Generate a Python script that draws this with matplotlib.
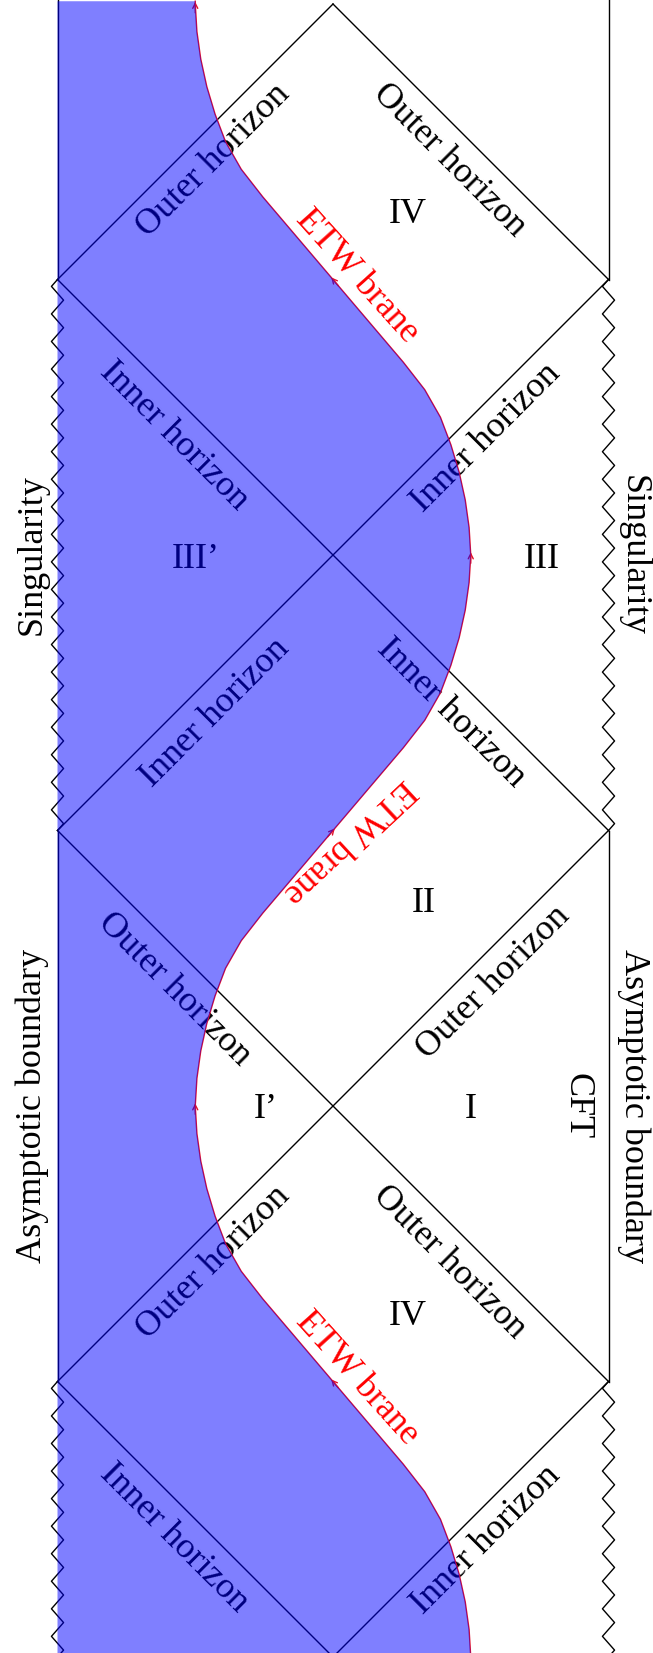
import numpy as np
import matplotlib
matplotlib.use("Agg")
import matplotlib.pyplot as plt

plt.rcParams["font.family"] = ["Liberation Serif", "DejaVu Serif"]

# ETW brane (x: half-widths from the centre, y: upward)
brane_y = [-2.0, -1.9, -1.8, -1.7, -1.6, -1.5, -1.4, -1.3, -1.2, -1.1,
           -1.0, -0.9, -0.8, -0.7, -0.6, -0.5, -0.4, -0.3, -0.2, -0.1,
           0.0, 0.1, 0.2, 0.3, 0.4, 0.5, 0.6, 0.7, 0.8, 0.9,
           1.0, 1.1, 1.2, 1.3, 1.4, 1.5, 1.6, 1.7, 1.8, 1.9,
           2.0, 2.1, 2.2, 2.3, 2.4, 2.5, 2.6, 2.7, 2.8, 2.9,
           3.0, 3.1, 3.2, 3.3, 3.4, 3.5, 3.6, 3.7, 3.8, 3.9,
           4.0, 4.01]
brane_x = [0.500, 0.494, 0.480, 0.458, 0.428, 0.390, 0.333, 0.255, 0.170, 0.085,
           0.0, -0.085, -0.170, -0.255, -0.333, -0.390, -0.428, -0.458, -0.480, -0.494,
           -0.500, -0.494, -0.480, -0.458, -0.428, -0.390, -0.333, -0.255, -0.170, -0.085,
           0.0, 0.085, 0.170, 0.255, 0.333, 0.390, 0.428, 0.458, 0.480, 0.494,
           0.500, 0.494, 0.480, 0.458, 0.428, 0.390, 0.333, 0.255, 0.170, 0.085,
           0.0, -0.085, -0.170, -0.255, -0.333, -0.390, -0.428, -0.458, -0.480, -0.494,
           -0.500, -0.500]
arrow_at = [-1.0, 0.0, 1.0, 2.0, 3.0, 4.01]

# horizons: segment endpoints
hor_x0 = [-1, 0, -1, -1, -1, -1, -1, 0]
hor_y0 = [3, 4, 3, 1, 1, -1, -1, -2]
hor_x1 = [0, 1, 1, 1, 1, 1, 0, 1]
hor_y1 = [4, 3, 1, 3, -1, 1, -2, -1]

# left/right edges: asymptotic boundary pieces and singularity pieces (top, bottom)
boundary_y = [(4.1, 3), (1, -1)]
singular_y = [(3, 1), (-1, -2.1)]

labels = [
    ("Outer horizon", -0.446, 3.441, 45, "k"),
    ("Outer horizon", 0.432, 3.441, -45, "k"),
    ("IV", 0.272, 3.252, 0, "k"),
    ("ETW brane", 0.098, 3.02, -48, "red"),
    ("Inner horizon", -0.566, 2.443, -45, "k"),
    ("Inner horizon", 0.545, 2.436, 45, "k"),
    ("III\u2019", -0.498, 2.0, 0, "k"),
    ("III", 0.758, 2.0, 0, "k"),
    ("Singularity", -1.105, 2.0, 90, "k"),
    ("Singularity", 1.105, 2.0, -90, "k"),
    ("Inner horizon", -0.437, 1.437, 45, "k"),
    ("Inner horizon", 0.439, 1.437, -45, "k"),
    ("ETW brane", 0.069, 0.95, 223, "red"),
    ("II", 0.33, 0.748, 0, "k"),
    ("Outer horizon", -0.566, 0.432, -45, "k"),
    ("Outer horizon", 0.57, 0.457, 45, "k"),
    ("I\u2019", -0.245, 0.0, 0, "k"),
    ("I", 0.5, 0.0, 0, "k"),
    ("CFT", 0.90, 0.0, -90, "k"),
    ("Asymptotic boundary", -1.105, 0.0, 90, "k"),
    ("Asymptotic boundary", 1.105, 0.0, -90, "k"),
    ("Outer horizon", -0.446, -0.559, 45, "k"),
    ("Outer horizon", 0.432, -0.559, -45, "k"),
    ("IV", 0.272, -0.748, 0, "k"),
    ("ETW brane", 0.098, -0.98, -48, "red"),
    ("Inner horizon", -0.566, -1.557, -45, "k"),
    ("Inner horizon", 0.545, -1.564, 45, "k"),
]


def zigzag(x0, ya, yb, period=0.1, amp=0.022):
    n = max(1, int(round(abs(yb - ya) / period)))
    step = (yb - ya) / n
    ys, xs = [ya], [x0]
    for k in range(n):
        ys += [ya + (k + 0.25) * step, ya + (k + 0.75) * step]
        xs += [x0 - amp, x0 + amp]
    ys.append(yb)
    xs.append(x0)
    return xs, ys


fig = plt.figure(figsize=(6.53, 16.53), dpi=100)
ax = fig.add_axes([0, 0, 1, 1])
ax.set_xlim(-333 / 275.5, 320 / 275.5)
ax.set_ylim(-547 / 275.5, 1106 / 275.5)
ax.axis("off")

lw = 1.0
for x0, y0, x1, y1 in zip(hor_x0, hor_y0, hor_x1, hor_y1):
    ax.plot([x0, x1], [y0, y1], color="k", lw=lw, zorder=1)

for side in (-1, 1):
    for ya, yb in boundary_y:
        ax.plot([side, side], [ya, yb], color="k", lw=lw, zorder=1)
    for ya, yb in singular_y:
        zx, zy = zigzag(side, ya, yb)
        ax.plot(zx, zy, color="k", lw=lw, zorder=1)

for text, x, y, rot, col in labels:
    ax.text(x, y, text, rotation=rot, rotation_mode="anchor", ha="center",
            va="center_baseline", fontsize=26, color=col, zorder=2)

ax.plot(brane_x, brane_y, color="#e0102a", lw=1.0, zorder=2.5)
bx = np.array(brane_x)
by = np.array(brane_y)
for ya in arrow_at:
    i = int(np.argmin(np.abs(by - ya)))
    j0, j1 = max(i - 1, 0), min(i + 1, len(by) - 1)
    d = np.array([bx[j1] - bx[j0], by[j1] - by[j0]])
    d = d / np.hypot(*d)
    tip = np.array([bx[i], by[i]])
    if i == len(by) - 1:
        tip = tip - 0.012 * d
    ax.annotate("", xy=tip + 0.01 * d, xytext=tip - 0.03 * d,
                arrowprops=dict(arrowstyle="->", color="#e0102a", lw=1.0,
                                mutation_scale=9, shrinkA=0, shrinkB=0),
                zorder=2.5)

ax.fill_betweenx(brane_y, -1, brane_x, color="blue", alpha=0.5, lw=0, zorder=3)

fig.savefig("out.png", dpi=100)
